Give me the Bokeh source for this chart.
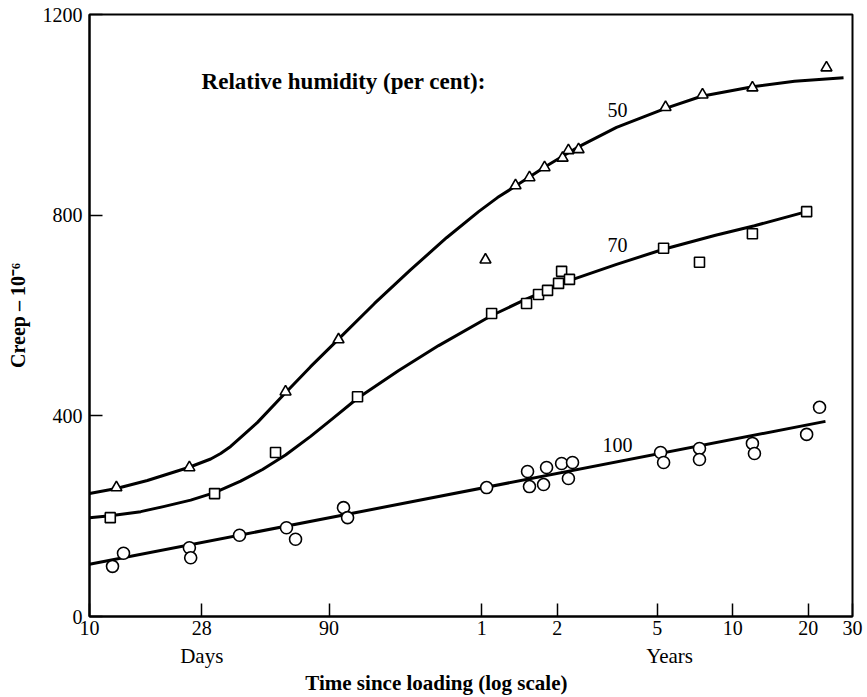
from bokeh.plotting import figure
from bokeh.models import Range1d, FixedTicker, Label, LogAxis
from bokeh.embed import file_html
from bokeh.resources import INLINE

# ---- data: x = time since loading in days, y = creep (x 10^-6) ----
rh50_days = [12.8, 25.0, 60.4, 98.2, 378, 498, 566, 650, 767, 809, 888, 1972, 2768, 4375, 8630]
rh50_creep = [257, 297, 448, 552, 711, 859, 875, 895, 914, 929, 931, 1015, 1040, 1054, 1094]

rh70_days = [12.1, 31.5, 55.1, 116.9, 400, 551, 615, 668, 739, 760, 817, 1937, 2692, 4375, 7194]
rh70_creep = [197, 245, 327, 438, 604, 624, 642, 650, 664, 688, 672, 734, 706, 763, 807]

rh100_days = [12.35, 13.66, 25.0, 25.3, 39.6, 60.9, 66.2, 102.8, 106.7, 382, 556, 566, 644, 662,
              760, 809, 840, 1884, 1937, 2692, 2692, 4375, 4457, 7194, 8098]
rh100_creep = [100, 126, 137, 117, 162, 177, 154, 217, 197, 257, 289, 259, 263, 297,
               305, 275, 307, 327, 307, 335, 313, 345, 325, 363, 417]

# fitted curves
fit50_days = [10, 12.8, 17.0, 24.8, 30.4, 33.3, 36.5, 41.1, 46.7, 59.6, 76.0, 99.1, 136.6, 190,
              264.5, 355, 422, 498, 656, 871, 1258, 1971, 2743, 4380, 6438, 10092]
fit50_creep = [245, 255, 271, 297, 314, 325, 339, 362, 387, 443, 498, 555, 624, 691,
               755, 807, 835, 858, 897, 934, 975, 1013, 1037, 1056, 1067, 1074]

fit70_days = [10, 12.1, 16.0, 19.7, 25.3, 31.5, 40.0, 48.9, 60.4, 76.0, 93.8, 116.9, 170, 246,
              400, 546, 810, 1258, 1936, 3119, 4461, 7189]
fit70_creep = [197, 201, 209, 219, 232, 247, 270, 293, 322, 359, 396, 435, 490, 540,
               600, 632, 669, 702, 732, 760, 779, 807]

fit100_days = [10, 8551]
fit100_creep = [104, 389]

x_tick_days = [10, 28, 90, 365, 730, 1826, 3652, 7305, 10957]
x_tick_labels = ["10", "28", "90", "1", "2", "5", "10", "20", "30"]
y_ticks = [0, 400, 800, 1200]
unit_days = [28, 2046]
unit_labels = ["Days", "Years"]

SERIF = "Liberation Serif"

p = figure(width=866, height=697, x_axis_type="log",
           x_range=Range1d(10, 10957), y_range=Range1d(0, 1200),
           output_backend="svg", toolbar_location=None,
           min_border_left=89, min_border_right=14, min_border_top=14, min_border_bottom=81)
p.background_fill_color = "white"
p.border_fill_color = "white"
p.outline_line_color = "black"
p.outline_line_width = 2
p.xgrid.visible = False
p.ygrid.visible = False

for ax in (p.xaxis[0], p.yaxis[0]):
    ax.axis_line_width = 2
    ax.axis_line_color = "black"
    ax.major_tick_in = 13
    ax.major_tick_out = 0
    ax.minor_tick_in = 0
    ax.minor_tick_out = 0
    ax.major_tick_line_width = 1.5
    ax.major_label_text_font = SERIF
    ax.major_label_text_font_size = "20px"
    ax.major_label_text_color = "black"

p.xaxis.ticker = FixedTicker(ticks=x_tick_days, minor_ticks=[])
p.xaxis.major_label_overrides = dict(zip(x_tick_days, x_tick_labels))
p.xaxis.major_label_standoff = 4
p.yaxis.ticker = FixedTicker(ticks=y_ticks, minor_ticks=[])
p.yaxis.major_label_standoff = 7
p.yaxis.axis_label = "Creep \u2013 10\u207b\u2076"
p.yaxis.axis_label_text_font = SERIF
p.yaxis.axis_label_text_font_style = "bold"
p.yaxis.axis_label_text_font_size = "20px"
p.yaxis.axis_label_text_color = "black"
p.yaxis.axis_label_standoff = 11


def text_axis(ticks, labels, size, bold, standoff):
    ax = LogAxis(ticker=FixedTicker(ticks=ticks, minor_ticks=[]),
                 major_label_overrides=dict(zip(ticks, labels)))
    ax.axis_line_color = None
    ax.major_tick_line_color = None
    ax.minor_tick_line_color = None
    ax.major_tick_in = 0
    ax.major_tick_out = 0
    ax.minor_tick_in = 0
    ax.minor_tick_out = 0
    ax.major_label_standoff = standoff
    ax.major_label_text_font = SERIF
    ax.major_label_text_font_size = size
    ax.major_label_text_font_style = "bold" if bold else "normal"
    ax.major_label_text_color = "black"
    p.add_layout(ax, "below")


text_axis(unit_days, unit_labels, "21px", False, 6)
text_axis([241], ["Time since loading (log scale)"], "21px", True, 0)

# fitted curves
for xs, ys in ((fit50_days, fit50_creep), (fit70_days, fit70_creep), (fit100_days, fit100_creep)):
    p.line(xs, ys, line_color="black", line_width=3, line_join="round")

# measured points
p.scatter(rh50_days, rh50_creep, marker="triangle", size=11, fill_color="white",
          line_color="black", line_width=1.6)
p.scatter(rh70_days, rh70_creep, marker="square", size=10, fill_color="white",
          line_color="black", line_width=1.6)
p.scatter(rh100_days, rh100_creep, marker="circle", size=12, fill_color="white",
          line_color="black", line_width=1.6)


def lab(x, y, text, size, bold=False):
    p.add_layout(Label(x=x, y=y, text=text, text_font=SERIF, text_font_size=size,
                       text_font_style="bold" if bold else "normal",
                       text_align="center", text_baseline="middle",
                       text_color="black"))


lab(103, 1066, "Relative humidity (per cent):", "23px", bold=True)
lab(1270, 1009, "50", "20px")
lab(1270, 740, "70", "20px")
lab(1270, 341, "100", "20px")

open("out.html", "w").write(file_html(p, INLINE))
